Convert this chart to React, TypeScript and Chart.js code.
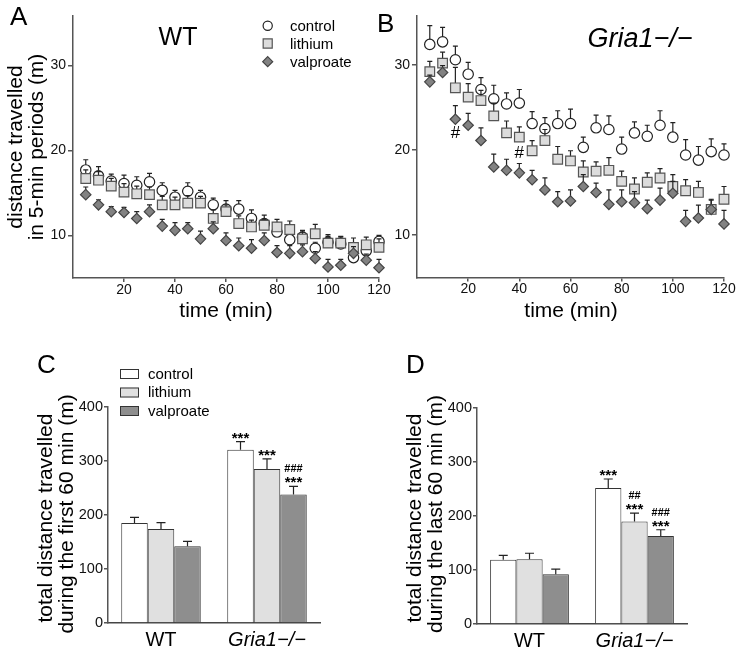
import React, { useEffect, useRef } from 'react';
import { Chart, registerables } from 'chart.js';

Chart.register(...registerables);

const FONT = "'Liberation Sans', Arial, Helvetica, sans-serif";
const PAGE_W = 740;
const PAGE_H = 657;

// ---------------- data ----------------
const timeMin = [5, 10, 15, 20, 25, 30, 35, 40, 45, 50, 55, 60, 65, 70, 75, 80, 85, 90, 95, 100, 105, 110, 115, 120];
const timeTicks = [20, 40, 60, 80, 100, 120];
const distanceTicks = [10, 20, 30];

// Panel A: WT
const wtControl = [17.7, 17.0, 16.4, 16.1, 15.9, 16.3, 15.3, 14.5, 15.2, 14.5, 13.6, 13.1, 13.1, 12.0, 11.4, 10.4, 9.5, 9.8, 8.5, 9.2, 9.0, 7.4, 8.2, 9.3];
const wtControlErr = [1.2, 1.1, 0.8, 1.0, 1.0, 1.0, 0.9, 0.8, 1.0, 0.8, 0.8, 1.0, 1.0, 1.0, 1.0, 0.9, 0.8, 0.8, 0.7, 0.9, 0.8, 0.9, 0.8, 0.7];
const wtLithium = [16.7, 16.5, 15.8, 15.1, 14.9, 14.8, 13.6, 13.6, 13.8, 13.8, 12.0, 12.8, 11.4, 11.0, 11.2, 11.0, 10.7, 9.6, 10.2, 9.1, 9.1, 8.6, 8.9, 8.6];
const wtLithiumErr = [1.0, 1.0, 0.9, 1.0, 0.9, 0.9, 1.0, 0.9, 0.9, 0.8, 1.0, 0.8, 0.9, 0.8, 0.7, 0.9, 1.0, 0.8, 1.1, 0.8, 0.8, 1.1, 0.9, 1.0];
const wtValproate = [14.8, 13.6, 12.8, 12.7, 12.0, 12.8, 11.1, 10.6, 10.8, 9.6, 10.8, 9.4, 8.8, 8.5, 9.4, 8.0, 7.9, 8.1, 7.3, 6.3, 6.5, 7.9, 7.1, 6.2];
const wtValproateErr = [0.9, 0.6, 0.6, 0.6, 0.8, 0.8, 0.8, 0.9, 0.7, 0.9, 0.8, 0.9, 0.9, 1.0, 0.9, 0.8, 0.9, 0.8, 0.8, 0.9, 0.7, 0.8, 0.7, 1.0];

// Panel B: Gria1-/-
const koControl = [32.4, 32.7, 30.6, 28.9, 27.1, 26.0, 25.4, 25.5, 23.1, 22.5, 23.1, 23.1, 20.3, 22.6, 22.4, 20.1, 22.0, 21.6, 22.9, 21.5, 19.4, 18.8, 19.8, 19.4];
const koControlErr = [2.2, 1.7, 1.6, 1.4, 1.4, 1.6, 1.3, 1.6, 1.4, 1.3, 1.5, 1.7, 1.2, 1.5, 1.6, 1.4, 1.3, 1.3, 1.7, 1.7, 1.8, 1.6, 1.5, 1.3];
const koLithium = [29.2, 30.2, 27.3, 26.2, 25.8, 24.0, 22.0, 21.5, 19.9, 21.1, 18.9, 18.7, 17.4, 17.5, 17.6, 16.3, 15.4, 16.2, 16.7, 15.7, 15.2, 15.0, 13.0, 14.2];
const koLithiumErr = [1.2, 1.3, 2.4, 1.6, 1.2, 1.5, 1.4, 1.2, 1.2, 1.3, 1.5, 1.2, 1.3, 1.1, 1.5, 1.2, 1.3, 1.1, 1.1, 1.4, 1.3, 1.3, 1.2, 1.5];
const koValproate = [28.0, 29.1, 23.6, 22.9, 21.1, 18.0, 17.6, 17.3, 16.5, 15.3, 13.9, 14.0, 15.7, 15.0, 13.6, 13.9, 13.8, 13.1, 14.1, 14.9, 11.6, 12.0, 13.0, 11.3];
const koValproateErr = [0.8, 0.8, 1.6, 1.4, 1.5, 1.5, 1.3, 1.1, 1.1, 1.4, 1.2, 1.3, 1.4, 1.1, 1.7, 1.4, 1.3, 1.0, 1.4, 1.4, 1.3, 1.5, 1.1, 1.6];
const koHashTimes = [15, 40];
const koHashValues = [21.9, 19.6];

// Panels C / D: totals
const genotypes = ['WT', 'Gria1\u2212/\u2212'];
const totalTicks = [0, 100, 200, 300, 400];

const first60Control = [185, 321];
const first60ControlErr = [10.5, 15];
const first60Lithium = [174, 285];
const first60LithiumErr = [12, 19];
const first60Valproate = [142, 238];
const first60ValproateErr = [9, 15];
const first60ControlStars = ['', '***'];
const first60LithiumStars = ['', '***'];
const first60ValproateStars = ['', '***'];
const first60ControlHash = ['', ''];
const first60LithiumHash = ['', ''];
const first60ValproateHash = ['', '###'];

const last60Control = [119, 252];
const last60ControlErr = [8, 16.5];
const last60Lithium = [120, 190];
const last60LithiumErr = [11, 15.5];
const last60Valproate = [92, 163];
const last60ValproateErr = [9.5, 11.5];
const last60ControlStars = ['', '***'];
const last60LithiumStars = ['', '***'];
const last60ValproateStars = ['', '***'];
const last60ControlHash = ['', ''];
const last60LithiumHash = ['', '##'];
const last60ValproateHash = ['', '###'];

// ---------------- styles ----------------
const STY = {
  control: { pointStyle: 'circle', radius: 5.2, fill: '#ffffff', stroke: '#222222', bar: '#ffffff' },
  lithium: { pointStyle: 'rect', radius: 6.8, fill: '#dcdcdc', stroke: '#555555', bar: '#e0e0e0' },
  valproate: { pointStyle: 'rectRot', radius: 5.2, fill: '#828282', stroke: '#444444', bar: '#8e8e8e' },
};
const AXIS = '#555555';

type TextItem = {
  text: string;
  x: number;
  y: number;
  font: string;
  align?: CanvasTextAlign;
  baseline?: CanvasTextBaseline;
  rotate?: number;
  dataX?: number;
  dataY?: number;
};

function textPlugin(items: TextItem[]) {
  return {
    id: 'figText',
    afterDraw(chart: any) {
      const ctx = chart.ctx as CanvasRenderingContext2D;
      items.forEach((it) => {
        ctx.save();
        ctx.font = it.font;
        ctx.fillStyle = '#000';
        ctx.textAlign = it.align || 'left';
        ctx.textBaseline = it.baseline || 'alphabetic';
        let x = it.x;
        let y = it.y;
        if (it.dataX !== undefined && it.dataY !== undefined) {
          x = chart.scales.x.getPixelForValue(it.dataX);
          y = chart.scales.y.getPixelForValue(it.dataY);
        }
        ctx.translate(x, y);
        if (it.rotate) ctx.rotate(it.rotate);
        ctx.fillText(it.text, 0, 0);
        ctx.restore();
      });
    },
  };
}

function valueOf(d: any) {
  return typeof d === 'number' ? d : d.y;
}

function drawErrorsFor(chart: any, index: number, cap: number) {
  const ds = chart.data.datasets[index];
  if (!ds.errors) return;
  const meta = chart.getDatasetMeta(index);
  const ys = chart.scales.y;
  const ctx = chart.ctx as CanvasRenderingContext2D;
  ctx.save();
  ctx.strokeStyle = '#222';
  ctx.lineWidth = 1.2;
  meta.data.forEach((el: any, i: number) => {
    const v = valueOf(ds.data[i]);
    const top = ys.getPixelForValue(v + ds.errors[i]);
    ctx.beginPath();
    ctx.moveTo(el.x, el.y);
    ctx.lineTo(el.x, top);
    ctx.moveTo(el.x - cap / 2, top);
    ctx.lineTo(el.x + cap / 2, top);
    ctx.stroke();
  });
  ctx.restore();
}

const scatterErrorPlugin = {
  id: 'scatterErr',
  beforeDatasetDraw(chart: any, args: any) {
    drawErrorsFor(chart, args.index, 5);
  },
};

const barErrorPlugin = {
  id: 'barErr',
  afterDatasetsDraw(chart: any) {
    const ctx = chart.ctx as CanvasRenderingContext2D;
    const ys = chart.scales.y;
    chart.data.datasets.forEach((ds: any, di: number) => {
      drawErrorsFor(chart, di, 9);
      const meta = chart.getDatasetMeta(di);
      meta.data.forEach((el: any, i: number) => {
        const top = ys.getPixelForValue(ds.data[i] + ds.errors[i]);
        ctx.save();
        ctx.fillStyle = '#000';
        ctx.textAlign = 'center';
        ctx.textBaseline = 'alphabetic';
        if (ds.stars && ds.stars[i]) {
          ctx.font = `bold 15px ${FONT}`;
          ctx.fillText(ds.stars[i], el.x, top + 1);
        }
        if (ds.hashes && ds.hashes[i]) {
          ctx.font = `bold 11px ${FONT}`;
          ctx.fillText(ds.hashes[i], el.x, top - 14);
        }
        ctx.restore();
      });
    });
  },
};

function markerPath(ctx: CanvasRenderingContext2D, style: string, x: number, y: number, r: number) {
  ctx.beginPath();
  if (style === 'circle') {
    ctx.arc(x, y, r, 0, Math.PI * 2);
  } else if (style === 'rect') {
    const s = r * Math.SQRT1_2;
    ctx.rect(x - s, y - s, 2 * s, 2 * s);
  } else {
    ctx.moveTo(x, y - r);
    ctx.lineTo(x + r, y);
    ctx.lineTo(x, y + r);
    ctx.lineTo(x - r, y);
    ctx.closePath();
  }
}

function pointLegendPlugin(x: number, ys: number[], textX: number) {
  return {
    id: 'pointLegend',
    afterDraw(chart: any) {
      const ctx = chart.ctx as CanvasRenderingContext2D;
      chart.data.datasets.forEach((ds: any, i: number) => {
        const st = (STY as any)[ds.label];
        const r = ds.label === 'control' ? 4.6 : ds.label === 'lithium' ? 6.4 : 5;
        ctx.save();
        markerPath(ctx, st.pointStyle, x, ys[i], r);
        ctx.fillStyle = st.fill;
        ctx.strokeStyle = st.stroke;
        ctx.lineWidth = 1.2;
        ctx.fill();
        ctx.stroke();
        ctx.font = `15px ${FONT}`;
        ctx.fillStyle = '#000';
        ctx.textBaseline = 'middle';
        ctx.textAlign = 'left';
        ctx.fillText(ds.label, textX, ys[i] + 1);
        ctx.restore();
      });
    },
  };
}

function barLegendPlugin(x: number, ys: number[], textX: number) {
  return {
    id: 'barLegend',
    afterDraw(chart: any) {
      const ctx = chart.ctx as CanvasRenderingContext2D;
      chart.data.datasets.forEach((ds: any, i: number) => {
        ctx.save();
        ctx.fillStyle = ds.backgroundColor;
        ctx.strokeStyle = '#333';
        ctx.lineWidth = 1;
        ctx.fillRect(x, ys[i], 19, 10);
        ctx.strokeRect(x + 0.5, ys[i] + 0.5, 18, 9);
        ctx.font = `15px ${FONT}`;
        ctx.fillStyle = '#000';
        ctx.textBaseline = 'middle';
        ctx.fillText(ds.label, textX, ys[i] + 5.5);
        ctx.restore();
      });
    },
  };
}

type Box = { L: number; T: number; R: number; B: number };

function padFor(box: Box, yw: number, xh: number) {
  return { left: box.L - yw, top: box.T, right: PAGE_W - box.R, bottom: PAGE_H - box.B - xh };
}

function scatterDatasets(c: number[], ce: number[], l: number[], le: number[], v: number[], ve: number[]) {
  const mk = (label: string, vals: number[], errs: number[], order: number) => {
    const st = (STY as any)[label];
    return {
      label,
      data: timeMin.map((t, i) => ({ x: t, y: vals[i] })),
      errors: errs,
      order,
      pointStyle: st.pointStyle,
      pointRadius: st.radius,
      pointBackgroundColor: st.fill,
      pointBorderColor: st.stroke,
      pointBorderWidth: 1.2,
      showLine: false,
      clip: false as any,
    };
  };
  return [mk('control', c, ce, 3), mk('lithium', l, le, 2), mk('valproate', v, ve, 1)];
}

function scatterConfig(box: Box, datasets: any[], plugins: any[]): any {
  const YW = 30;
  const XH = 25;
  return {
    type: 'scatter',
    data: { datasets },
    options: {
      responsive: false,
      animation: false,
      devicePixelRatio: 1,
      layout: { padding: padFor(box, YW, XH) },
      plugins: { legend: { display: false }, tooltip: { enabled: false } },
      scales: {
        x: {
          type: 'linear',
          min: 0,
          max: 120,
          afterBuildTicks: (s: any) => {
            s.ticks = timeTicks.map((v) => ({ value: v }));
          },
          afterFit: (s: any) => {
            s.height = XH;
          },
          ticks: { font: { family: FONT, size: 14, lineHeight: 1 }, color: '#111', padding: 1, maxRotation: 0 },
          grid: { display: true, drawOnChartArea: false, drawTicks: true, tickLength: 4, color: AXIS, lineWidth: 1.5 },
          border: { display: true, color: AXIS, width: 1.5 },
        },
        y: {
          type: 'linear',
          min: 5,
          max: 35.8,
          afterBuildTicks: (s: any) => {
            s.ticks = distanceTicks.map((v) => ({ value: v }));
          },
          afterFit: (s: any) => {
            s.width = YW;
          },
          ticks: { font: { family: FONT, size: 14, lineHeight: 1 }, color: '#111', padding: 2 },
          grid: { display: true, drawOnChartArea: false, drawTicks: true, tickLength: 5, color: AXIS, lineWidth: 1.5 },
          border: { display: true, color: AXIS, width: 1.5 },
        },
      },
    },
    plugins: [scatterErrorPlugin, ...plugins],
  };
}

function barDatasets(
  c: number[], ce: number[], cs: string[], ch: string[],
  l: number[], le: number[], ls: string[], lh: string[],
  v: number[], ve: number[], vs: string[], vh: string[]
) {
  const mk = (label: string, vals: number[], errs: number[], stars: string[], hashes: string[]) => ({
    label,
    data: vals,
    errors: errs,
    stars,
    hashes,
    backgroundColor: (STY as any)[label].bar,
    borderColor: '#333',
    borderWidth: 1,
    categoryPercentage: 0.75,
    barPercentage: 1,
  });
  return [mk('control', c, ce, cs, ch), mk('lithium', l, le, ls, lh), mk('valproate', v, ve, vs, vh)];
}

function barConfig(box: Box, datasets: any[], plugins: any[]): any {
  const YW = 50;
  const XH = 30;
  return {
    type: 'bar',
    data: { labels: genotypes, datasets },
    options: {
      responsive: false,
      animation: false,
      devicePixelRatio: 1,
      layout: { padding: padFor(box, YW, XH) },
      plugins: { legend: { display: false }, tooltip: { enabled: false } },
      scales: {
        x: {
          type: 'category',
          afterFit: (s: any) => {
            s.height = XH;
          },
          ticks: {
            font: (ctx: any) => ({ family: FONT, size: 20, lineHeight: 1, style: ctx.index === 1 ? 'italic' : 'normal' }),
            color: '#000',
            padding: 7,
            maxRotation: 0,
          },
          grid: { display: true, drawOnChartArea: false, drawTicks: false, color: AXIS },
          border: { display: true, color: '#444', width: 1.5 },
        },
        y: {
          type: 'linear',
          min: 0,
          max: 400,
          afterBuildTicks: (s: any) => {
            s.ticks = totalTicks.map((v) => ({ value: v }));
          },
          afterFit: (s: any) => {
            s.width = YW;
          },
          ticks: { font: { family: FONT, size: 14.5, lineHeight: 1 }, color: '#111', padding: 1 },
          grid: { display: true, drawOnChartArea: false, drawTicks: true, tickLength: 4, color: AXIS, lineWidth: 1.5 },
          border: { display: true, color: AXIS, width: 1.5 },
        },
      },
    },
    plugins: [barErrorPlugin, ...plugins],
  };
}

const ROT = -Math.PI / 2;
const LETTER = `26px ${FONT}`;
const TITLE = `21px ${FONT}`;

export default function App() {
  const refA = useRef<HTMLCanvasElement>(null);
  const refB = useRef<HTMLCanvasElement>(null);
  const refC = useRef<HTMLCanvasElement>(null);
  const refD = useRef<HTMLCanvasElement>(null);

  useEffect(() => {
    const boxA: Box = { L: 73, T: 16, R: 379, B: 278 };
    const boxB: Box = { L: 417, T: 15.5, R: 724, B: 277.5 };
    const boxC: Box = { L: 108, T: 407, R: 320, B: 623 };
    const boxD: Box = { L: 477, T: 408, R: 687, B: 624 };

    const textsA: TextItem[] = [
      { text: 'A', x: 10, y: 25, font: LETTER },
      { text: 'WT', x: 178, y: 45, font: `25px ${FONT}`, align: 'center' },
      { text: 'distance travelled', x: 21.5, y: 147, font: TITLE, align: 'center', rotate: ROT },
      { text: 'in 5-min periods (m)', x: 42.5, y: 147, font: TITLE, align: 'center', rotate: ROT },
      { text: 'time (min)', x: 226, y: 317, font: TITLE, align: 'center' },
    ];
    const textsB: TextItem[] = [
      { text: 'B', x: 377, y: 32, font: LETTER },
      { text: 'Gria1\u2212/\u2212', x: 640, y: 47, font: `italic 27px ${FONT}`, align: 'center' },
      { text: 'time (min)', x: 571, y: 317, font: TITLE, align: 'center' },
      ...koHashTimes.map((t, i) => ({
        text: '#', x: 0, y: 0, dataX: t, dataY: koHashValues[i], font: `17px ${FONT}`, align: 'center' as CanvasTextAlign, baseline: 'middle' as CanvasTextBaseline,
      })),
    ];
    const textsC: TextItem[] = [
      { text: 'C', x: 37, y: 373, font: LETTER },
      { text: 'total distance travelled', x: 52, y: 518, font: TITLE, align: 'center', rotate: ROT },
      { text: 'during the first 60 min (m)', x: 72.5, y: 514, font: TITLE, align: 'center', rotate: ROT },
    ];
    const textsD: TextItem[] = [
      { text: 'D', x: 406, y: 373, font: LETTER },
      { text: 'total distance travelled', x: 421, y: 518, font: TITLE, align: 'center', rotate: ROT },
      { text: 'during the last 60 min (m)', x: 441.5, y: 514, font: TITLE, align: 'center', rotate: ROT },
    ];

    const charts: Chart[] = [];
    charts.push(
      new Chart(
        refA.current!,
        scatterConfig(
          boxA,
          scatterDatasets(wtControl, wtControlErr, wtLithium, wtLithiumErr, wtValproate, wtValproateErr),
          [textPlugin(textsA), pointLegendPlugin(267.7, [25.7, 43.5, 61.7], 290)]
        )
      )
    );
    charts.push(
      new Chart(
        refB.current!,
        scatterConfig(
          boxB,
          scatterDatasets(koControl, koControlErr, koLithium, koLithiumErr, koValproate, koValproateErr),
          [textPlugin(textsB)]
        )
      )
    );
    charts.push(
      new Chart(
        refC.current!,
        barConfig(
          boxC,
          barDatasets(
            first60Control, first60ControlErr, first60ControlStars, first60ControlHash,
            first60Lithium, first60LithiumErr, first60LithiumStars, first60LithiumHash,
            first60Valproate, first60ValproateErr, first60ValproateStars, first60ValproateHash
          ),
          [textPlugin(textsC), barLegendPlugin(120, [369, 387.5, 406], 148)]
        )
      )
    );
    charts.push(
      new Chart(
        refD.current!,
        barConfig(
          boxD,
          barDatasets(
            last60Control, last60ControlErr, last60ControlStars, last60ControlHash,
            last60Lithium, last60LithiumErr, last60LithiumStars, last60LithiumHash,
            last60Valproate, last60ValproateErr, last60ValproateStars, last60ValproateHash
          ),
          [textPlugin(textsD)]
        )
      )
    );
    return () => {
      charts.forEach((c) => c.destroy());
    };
  }, []);

  const cs: React.CSSProperties = { position: 'absolute', left: 0, top: 0, width: PAGE_W, height: PAGE_H };
  return (
    <div style={{ position: 'absolute', left: 0, top: 0, width: PAGE_W, height: PAGE_H, background: '#fff', overflow: 'hidden' }}>
      <canvas ref={refA} width={PAGE_W} height={PAGE_H} style={cs} />
      <canvas ref={refB} width={PAGE_W} height={PAGE_H} style={cs} />
      <canvas ref={refC} width={PAGE_W} height={PAGE_H} style={cs} />
      <canvas ref={refD} width={PAGE_W} height={PAGE_H} style={cs} />
    </div>
  );
}
